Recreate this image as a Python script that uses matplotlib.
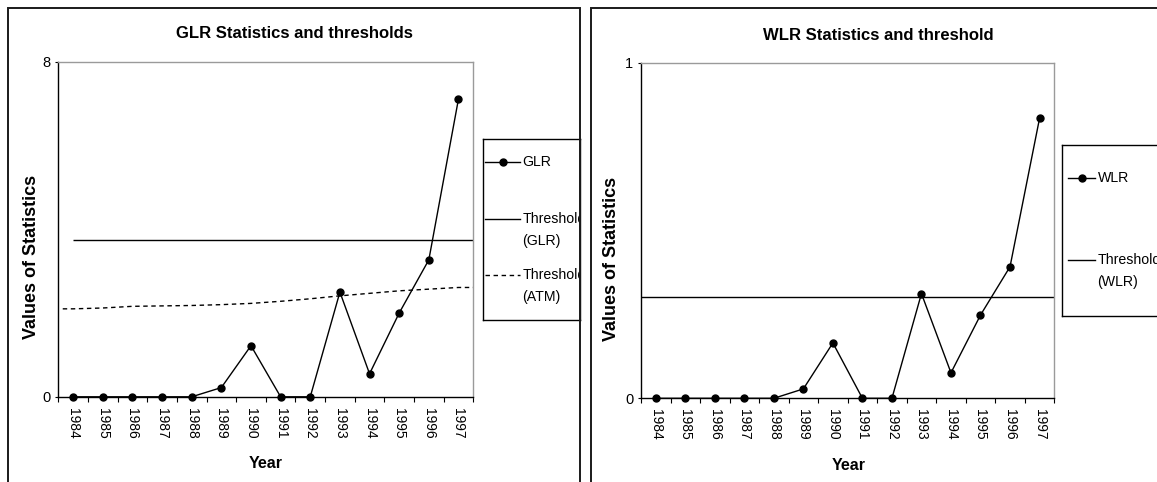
import numpy as np
import matplotlib
matplotlib.use("Agg")
import matplotlib.pyplot as plt
from matplotlib.patches import Rectangle

plt.rcParams['font.family'] = ['Liberation Sans', 'DejaVu Sans']

# ---- data ----
years = ["1984", "1985", "1986", "1987", "1988", "1989", "1990",
         "1991", "1992", "1993", "1994", "1995", "1996", "1997"]
glr = [0, 0, 0, 0, 0, 0.22, 1.22, 0, 0, 2.50, 0.55, 2.0, 3.27, 7.11]
glr_threshold = 3.74
atm_threshold = [2.10, 2.12, 2.16, 2.17, 2.18, 2.20, 2.23, 2.28, 2.34,
                 2.41, 2.47, 2.53, 2.57, 2.61]
wlr = [0, 0, 0, 0, 0, 0.028, 0.165, 0, 0, 0.312, 0.076, 0.248, 0.392, 0.834]
wlr_threshold = 0.301

left_title = "GLR Statistics and thresholds"
right_title = "WLR Statistics and threshold"
left_legend = ["GLR", "Threshold\n(GLR)", "Threshold\n(ATM)"]
right_legend = ["WLR", "Threshold\n(WLR)"]
ylabel = "Values of Statistics"
xlabel = "Year"

W, H = 1157, 482
fig = plt.figure(figsize=(W / 100, H / 100), dpi=100)
fig.patch.set_facecolor("white")


def fx(px):
    return px / W


def fy(py):
    return 1 - py / H


def style_axes(ax, ymax):
    n = len(years)
    xs = np.arange(n)
    ax.set_xlim(-0.5, n - 0.5)
    ax.set_ylim(0, ymax)
    ax.set_xticks(np.arange(-0.5, n, 1.0))
    ax.set_xticklabels([])
    ax.set_xticks(xs, minor=True)
    ax.set_xticklabels(years, minor=True, rotation=270, fontsize=10)
    ax.tick_params(axis="x", which="major", length=3.6, width=0.8, direction="out")
    ax.tick_params(axis="x", which="minor", length=0, pad=8.0)
    ax.set_yticks([0, ymax])
    ax.set_yticklabels(["0", str(ymax)], fontsize=10.5)
    ax.tick_params(axis="y", length=2.5, width=0.8, pad=3)
    for s in ("top", "right"):
        ax.spines[s].set_color("#9a9a9a")
        ax.spines[s].set_linewidth(1.0)
    for s in ("left", "bottom"):
        ax.spines[s].set_color("black")
        ax.spines[s].set_linewidth(1.0)
    return xs


# ---- left chart ----
axL = fig.add_axes([fx(58.3), fy(396.8), fx(473.3 - 58.3), (396.8 - 61.7) / H])
xs = style_axes(axL, 8)
axL.plot(np.r_[-0.35, xs, len(xs) - 0.5], np.r_[atm_threshold[0], atm_threshold, atm_threshold[-1]],
         color="black", lw=1.0, linestyle=(0, (3.2, 2.6)), zorder=2)
axL.hlines(glr_threshold, xs[0], len(xs) - 0.5, color="black", lw=1.0, zorder=2)
axL.plot(xs, glr, color="black", lw=1.0, marker="o", markersize=5, zorder=3, clip_on=False)

# ---- right chart ----
axR = fig.add_axes([fx(641), fy(398.3), fx(1054.3 - 641), (398.3 - 62.7) / H])
xs = style_axes(axR, 1)
axR.axhline(wlr_threshold, color="black", lw=1.0, zorder=2)
axR.plot(xs, wlr, color="black", lw=1.0, marker="o", markersize=5, zorder=3, clip_on=False)

# ---- titles and labels ----
fig.text(fx(294), fy(34), left_title, ha="center", va="center", fontsize=12, fontweight="bold")
fig.text(fx(878), fy(35), right_title, ha="center", va="center", fontsize=12, fontweight="bold")
fig.text(fx(32), fy(257), ylabel, rotation=90, ha="center", va="center", fontsize=13, fontweight="bold")
fig.text(fx(612), fy(259), ylabel, rotation=90, ha="center", va="center", fontsize=13, fontweight="bold")
fig.text(fx(266), fy(463), xlabel, ha="center", va="center", fontsize=11.5, fontweight="bold")
fig.text(fx(849), fy(465), xlabel, ha="center", va="center", fontsize=11.5, fontweight="bold")

# ---- chart-area frames ----
fig.add_artist(Rectangle((fx(8.3), -0.05), fx(580.3 - 8.3), fy(8) + 0.05, transform=fig.transFigure,
                         fill=False, ec="#1a1a1a", lw=1.4))
fig.add_artist(Rectangle((fx(590.7), -0.05), 0.6, fy(8) + 0.05, transform=fig.transFigure,
                         fill=False, ec="#1a1a1a", lw=1.4))


def make_legend(box, labels, styles, line_x, text_x, rows):
    x0, y0, x1, y1 = box  # pixel coords (left, top, right, bottom)
    lg = fig.add_axes([fx(x0), fy(y1), fx(x1 - x0), (y1 - y0) / H])
    lg.set_xlim(x0, x1)
    lg.set_ylim(y1, y0)
    lg.set_xticks([])
    lg.set_yticks([])
    for s in lg.spines.values():
        s.set_color("black")
        s.set_linewidth(1.0)
    for lab, st, ry in zip(labels, styles, rows):
        lg.plot(line_x, [ry, ry], color="black", lw=1.0, linestyle=st[0])
        if st[1]:
            lg.plot([sum(line_x) / 2], [ry], color="black", marker="o", markersize=5)
        for i, part in enumerate(lab.split("\n")):
            lg.text(text_x, ry + 22 * i, part, ha="left", va="center", fontsize=10.2, clip_on=True)
    return lg


make_legend((483.3, 138.7, 579.5, 320), left_legend,
            [("-", True), ("-", False), ((0, (3.2, 2.6)), False)],
            [485, 520], 522.5, [162, 219, 275])
make_legend((1062.3, 145, 1175, 315.7), right_legend,
            [("-", True), ("-", False)],
            [1068, 1095], 1097.5, [178, 260])

fig.savefig("out.png", dpi=100, facecolor="white")
